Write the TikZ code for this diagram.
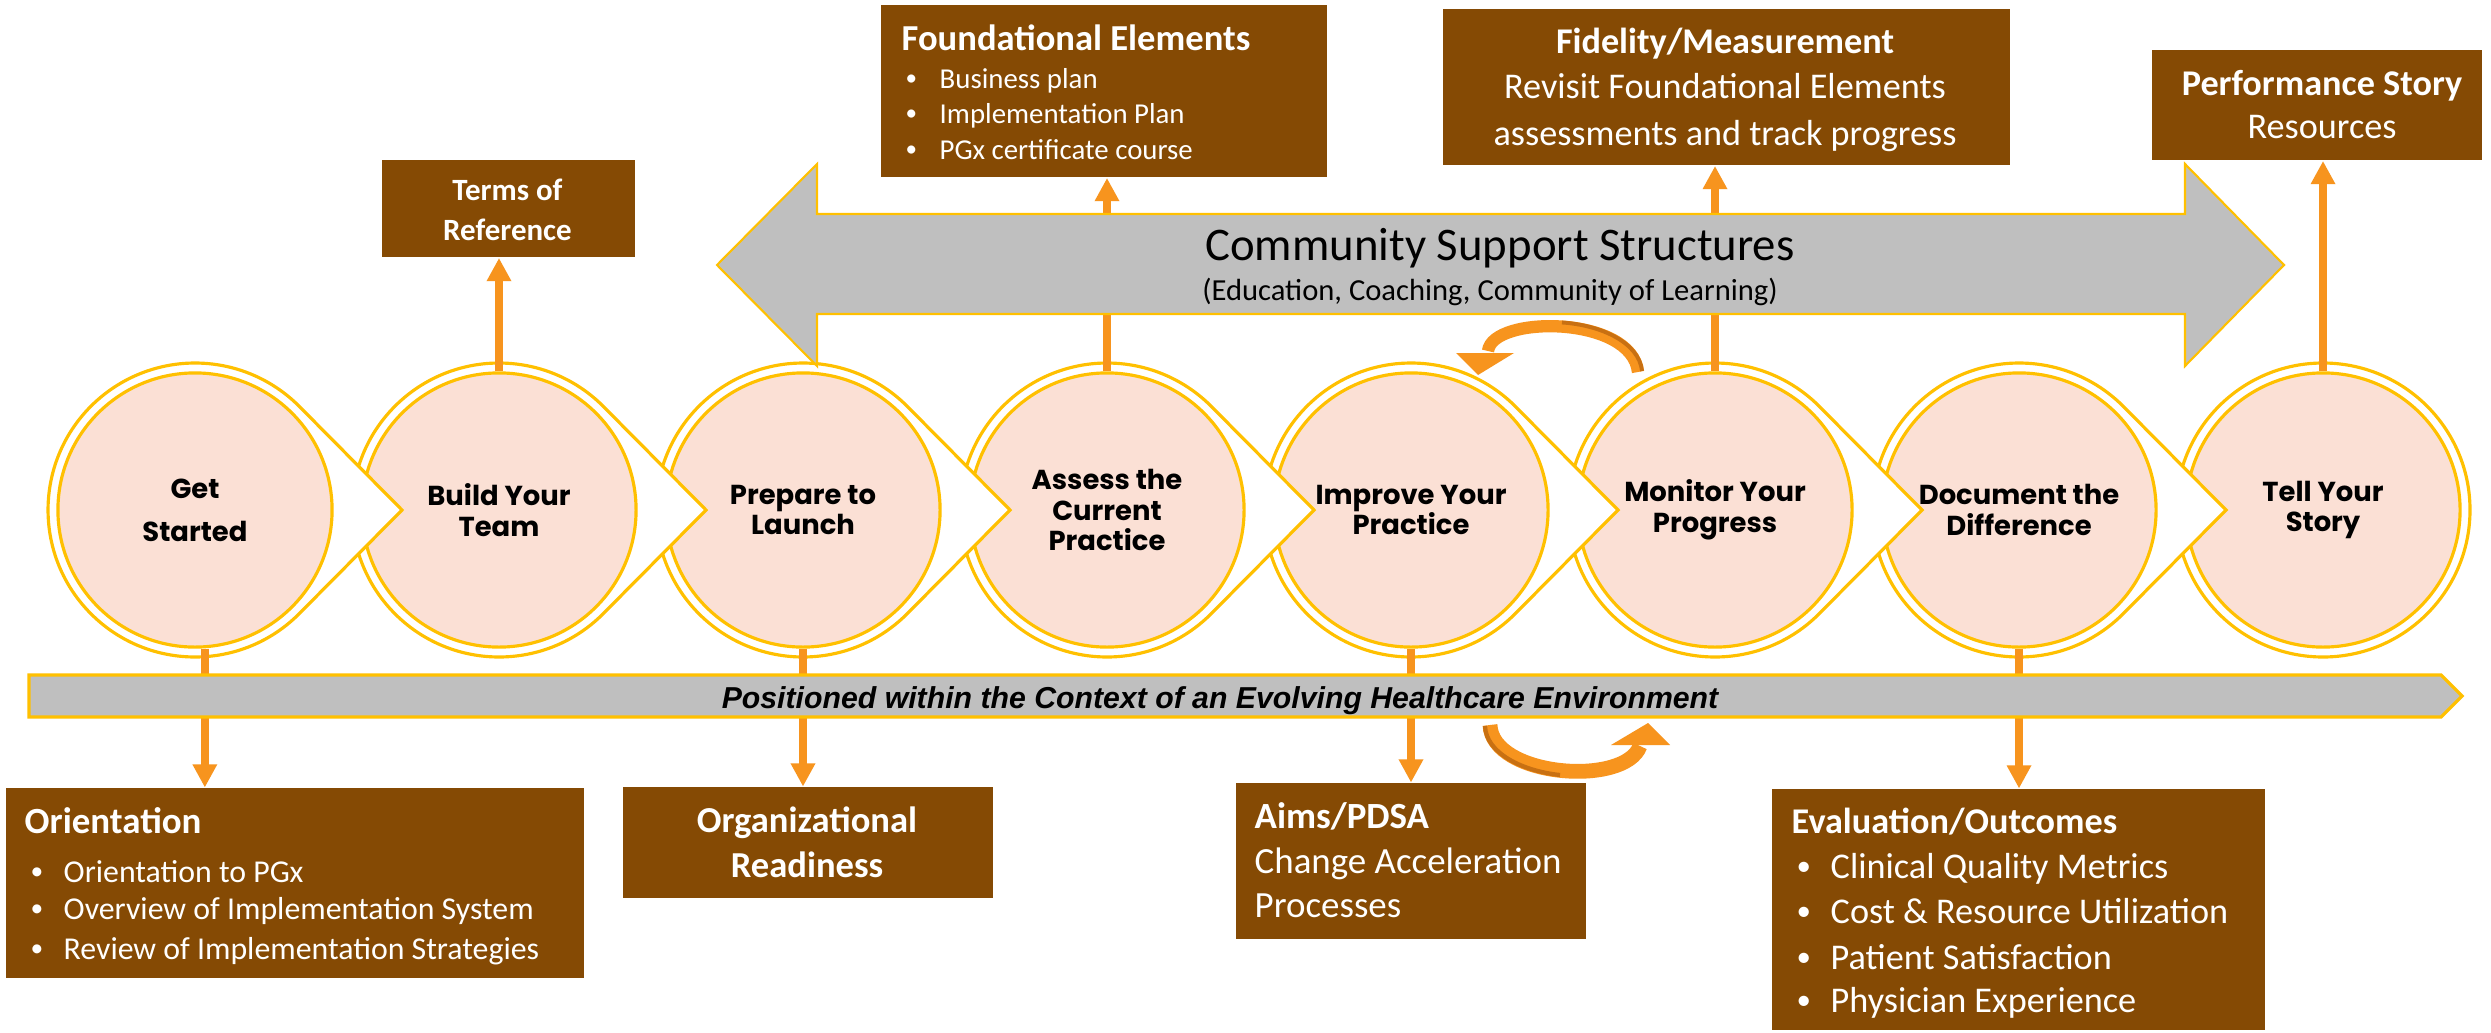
\documentclass[tikz,border=0pt]{standalone}
\usepackage{fontspec}
\setmainfont{Carlito}
\newfontfamily\circfont{Poppins}
\newfontfamily\arialfont{Liberation Sans}
\usetikzlibrary{arrows.meta}
\definecolor{pinkc}{RGB}{251,224,213}
\definecolor{yel}{RGB}{255,192,0}
\definecolor{greyc}{RGB}{191,191,191}
\definecolor{orng}{RGB}{247,148,30}
\definecolor{dorng}{RGB}{200,112,18}
\definecolor{brn}{RGB}{133,74,4}
\newcommand\myfs[1]{\fontsize{#1}{#1}\selectfont}
\newcommand\smbul{\raisebox{0.08em}{\scalebox{0.8}{\textbullet}}}
\newcommand\chevring[1]{\filldraw[ring] (#1+104.4,625.5) -- (#1+207,522) -- (#1+104.4,418.5) arc[start angle=-44.76, end angle=-315.24, radius=147] -- cycle;}
\begin{document}
\begin{tikzpicture}[x=0.01cm,y=0.01cm,
  ring/.style={fill=white, draw=yel, line width=0.9pt},
  circ/.style={circle, fill=pinkc, draw=yel, line width=0.9pt, minimum size=2.74cm, inner sep=0pt, align=center, text=black,
    font=\circfont\bfseries\fontsize{7.8pt}{8.8pt}\selectfont},
  oarr/.style={draw=orng, line width=2.27pt, -{Triangle[width=6.6pt,length=6.6pt]}},
  bbox/.style={fill=brn, draw=none, anchor=south west, inner sep=0pt},
  ctxt/.style={text=white, inner sep=0pt, anchor=base},
  ltxt/.style={text=white, inner sep=0pt, anchor=base west},
  band/.style={fill=greyc, draw=yel, line width=0.9pt, line join=miter}]
\useasboundingbox (0,0) rectangle (2491,1032);
\fill[white] (0,0) rectangle (2491,1032);

% circles, drawn right to left
\filldraw[ring] (2323,522) circle[radius=147];
\node[circ] (ts) at (2323,522) {Tell Your\\Story};
\chevring{2019}
\node[circ] (dd) at (2019,522) {Document the\\Difference};
\chevring{1715}
\node[circ] (mp) at (1715,522) {Monitor Your\\Progress};
\chevring{1411}
\node[circ] (iy) at (1411,522) {Improve Your\\Practice};
\chevring{1107}
\node[circ] (ac) at (1107,522) {Assess the\\Current\\Practice};
\chevring{803}
\node[circ] (pl) at (803,522) {Prepare to\\Launch};
\chevring{499}
\node[circ] (bt) at (499,522) {Build Your\\Team};
\chevring{195}
\node[circ] (gs) at (195,522) {Get\\[3.4pt]Started};

% boxes
\node[bbox, minimum width=2.53cm, minimum height=0.97cm] (terms) at (381,774) {};
\node[bbox, minimum width=4.46cm, minimum height=1.72cm] (found) at (880,854) {};
\node[bbox, minimum width=5.67cm, minimum height=1.56cm] (fid) at (1442,866) {};
\node[bbox, minimum width=3.30cm, minimum height=1.10cm] (perf) at (2151,871) {};
\node[bbox, minimum width=5.78cm, minimum height=1.90cm] (orient) at (5,53) {};
\node[bbox, minimum width=3.70cm, minimum height=1.11cm] (org) at (622,133) {};
\node[bbox, minimum width=3.50cm, minimum height=1.56cm] (aims) at (1235,92) {};
\node[bbox, minimum width=4.93cm, minimum height=2.41cm] (eval) at (1771,1) {};

% straight arrows
\draw[oarr] ([xshift=2.8pt]gs.south) -- ([xshift=2.8pt]gs.south |- orient.north);
\draw[oarr] (bt.north) -- (bt.north |- terms.south);
\draw[oarr] (pl.south) -- (pl.south |- org.north);
\draw[oarr] (ac.north) -- (ac.north |- found.south);
\draw[oarr] (iy.south) -- (iy.south |- aims.north);
\draw[oarr] (mp.north) -- (mp.north |- fid.south);
\draw[oarr] (dd.south) -- (dd.south |- eval.north);
\draw[oarr] (ts.north) -- (ts.north |- perf.south);

% big grey double arrow
\filldraw[band, line width=0.6pt] (717,767) -- (817,868) -- (817,818) -- (2185,818) -- (2185,868) -- (2284,767)
  -- (2185,666) -- (2185,718) -- (817,718) -- (817,666) -- cycle;
\node[font=\myfs{13.3pt}, anchor=base, inner sep=0pt] (css) at (1500,772) {Community Support Structures};
\node[font=\myfs{8.7pt}, anchor=base, inner sep=0pt] (css2) at (1490,732) {(Education, Coaching, Community of Learning)};

% bottom band
\filldraw[band] (29,357) -- (2441,357) -- (2462,336) -- (2441,315) -- (29,315) -- cycle;
\node[font=\arialfont\bfseries\itshape\myfs{8.6pt}, anchor=base, inner sep=0pt] (ctx) at (1220,324)
  {Positioned within the Context of an Evolving Healthcare Environment};

% box texts
\node[ctxt, font=\bfseries\myfs{8.8pt}] (terms1) at (507.5,832) {Terms of};
\node[ctxt, font=\bfseries\myfs{8.8pt}] (terms2) at (507.5,792) {Reference};

\node[ltxt, font=\bfseries\myfs{10.4pt}] (f0) at (901,982) {Foundational Elements};
\node[ltxt, font=\myfs{8.2pt}] (f1b) at (905,944) {\smbul};
\node[ltxt, font=\myfs{8.2pt}] (f1) at (939,944) {Business plan};
\node[ltxt, font=\myfs{8.2pt}] (f2b) at (905,909) {\smbul};
\node[ltxt, font=\myfs{8.2pt}] (f2) at (939,909) {Implementation Plan};
\node[ltxt, font=\myfs{8.2pt}] (f3b) at (905,873) {\smbul};
\node[ltxt, font=\myfs{8.2pt}] (f3) at (939,873) {PGx certificate course};

\node[ctxt, font=\bfseries\myfs{10.3pt}] (fd0) at (1725,979) {Fidelity/Measurement};
\node[ctxt, font=\myfs{10.3pt}] (fd1) at (1725,934) {Revisit Foundational Elements};
\node[ctxt, font=\myfs{10.3pt}] (fd2) at (1725,887) {assessments and track progress};

\node[ctxt, font=\bfseries\myfs{10.3pt}] (p0) at (2322,937) {Performance Story};
\node[ctxt, font=\myfs{10.3pt}] (p1) at (2322,894) {Resources};

\node[ltxt, font=\bfseries\myfs{10.5pt}] (o0) at (24,199) {Orientation};
\node[ltxt, font=\myfs{9.05pt}] (o1b) at (30,150) {\smbul};
\node[ltxt, font=\myfs{9.05pt}] (o1) at (63,150) {Orientation to PGx};
\node[ltxt, font=\myfs{9.05pt}] (o2b) at (30,113) {\smbul};
\node[ltxt, font=\myfs{9.05pt}] (o2) at (63,113) {Overview of Implementation System};
\node[ltxt, font=\myfs{9.05pt}] (o3b) at (30,73) {\smbul};
\node[ltxt, font=\myfs{9.05pt}] (o3) at (63,73) {Review of Implementation Strategies};

\node[ctxt, font=\bfseries\myfs{10.4pt}] (or0) at (807,200) {Organizational};
\node[ctxt, font=\bfseries\myfs{10.4pt}] (or1) at (807,155) {Readiness};

\node[ltxt, font=\bfseries\myfs{10.5pt}] (a0) at (1254,204) {Aims/PDSA};
\node[ltxt, font=\myfs{10.5pt}] (a1) at (1254,159) {Change Acceleration};
\node[ltxt, font=\myfs{10.5pt}] (a2) at (1254,115) {Processes};

\node[ltxt, font=\bfseries\myfs{10.3pt}] (e0) at (1791,199) {Evaluation/Outcomes};
\node[ltxt, font=\myfs{10.3pt}] (e1b) at (1796,154) {\smbul};
\node[ltxt, font=\myfs{10.3pt}] (e1) at (1830,154) {Clinical Quality Metrics};
\node[ltxt, font=\myfs{10.3pt}] (e2b) at (1796,109) {\smbul};
\node[ltxt, font=\myfs{10.3pt}] (e2) at (1830,109) {Cost \& Resource Utilization};
\node[ltxt, font=\myfs{10.3pt}] (e3b) at (1796,63) {\smbul};
\node[ltxt, font=\myfs{10.3pt}] (e3) at (1830,63) {Patient Satisfaction};
\node[ltxt, font=\myfs{10.3pt}] (e4b) at (1796,20) {\smbul};
\node[ltxt, font=\myfs{10.3pt}] (e4) at (1830,20) {Physician Experience};

% curved arrows
\draw[orng, line width=3.5pt] (1638,660) .. controls (1632,717) and (1492,717) .. (1488,681);
\draw[dorng, line width=1.1pt] (1642,661) .. controls (1639,690) and (1600,707) .. (1562,709.5);
\fill[orng] (1456,679) -- (1514,679) -- (1478,657) -- cycle;

\draw[orng, line width=4.2pt] (1490,307) .. controls (1492,255) and (1625,245) .. (1640,286);
\draw[dorng, line width=1.2pt] (1485,306) .. controls (1486,279) and (1522,261) .. (1560,257);
\fill[orng] (1611,287) -- (1670,287) -- (1648,309) -- cycle;
\end{tikzpicture}
\end{document}
